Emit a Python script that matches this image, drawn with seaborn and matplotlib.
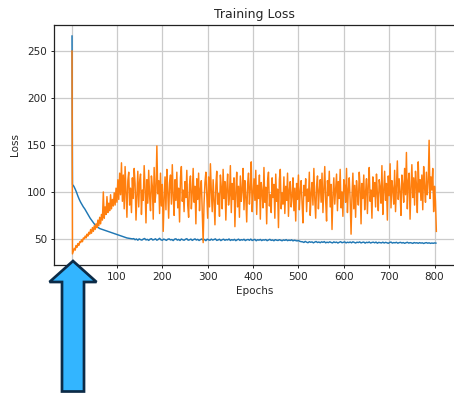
import numpy as np
import pandas as pd
import matplotlib
matplotlib.use("Agg")
import matplotlib.pyplot as plt
from matplotlib.patches import Polygon
import seaborn as sns

# Epoch grids: blue series sampled every third epoch, orange every second epoch
epochs_train = np.concatenate(([1, 2], np.arange(5, 806, 3)))
epochs_other = np.concatenate(([1], np.arange(2, 806, 2)))

# Training loss (blue series)
loss_train = [
    266, 108,
    106, 103, 99.5, 95.5, 92, 89, 86.5, 84, 82, 79.5, 77, 74.5, 72, 70, 68, 66,
    64.5, 63, 62, 61, 60.5, 60, 59.5, 59, 58.5, 58, 57.5, 57, 56.5, 56, 55.5, 55,
    54.5, 54, 53.5, 53, 52.5, 52, 51.5, 51, 50.8, 50.5, 50.2, 50,
    50.3, 49.1, 49.9, 48.6, 50.0, 49.2, 48.7, 49.8, 50.4, 48.9, 49.5, 48.4,
    49.7, 50.2, 48.8, 49.3, 50.1, 48.6, 49.4, 50.6, 49.0, 48.5, 49.8, 49.2,
    48.4, 49.6, 50.0, 48.9, 49.3, 48.2, 49.7, 50.1, 48.7, 49.4, 48.3, 49.9,
    49.1, 48.5, 49.6, 50.2, 48.6, 49.0, 49.8, 48.4, 49.3, 50.0, 48.8, 49.5,
    48.3, 49.2, 49.9, 48.6, 49.4, 48.1, 49.7, 49.0, 48.5, 49.8, 48.7, 49.3,
    50.0, 48.4, 48.9, 49.6, 48.2, 49.1, 49.7, 48.5, 49.3, 48.8, 49.9, 48.3,
    49.2, 48.6, 49.5, 48.1, 49.0, 49.7, 48.4, 49.2, 48.7, 49.6, 48.2, 49.0,
    49.4, 48.5, 49.8, 48.3, 48.9, 49.5, 48.0, 49.1, 48.6, 49.4, 48.2, 49.0,
    48.7, 49.3, 48.1, 48.8, 49.5, 48.4, 48.9, 48.0, 49.2, 48.6, 48.3, 49.1,
    48.5, 48.0, 48.9, 48.4, 49.2, 48.1, 48.7, 48.3, 49.0, 47.9, 48.6, 48.2,
    47.8, 48.3, 47.4, 47.0,
    46.9, 46.2, 47.3, 46.5, 45.9, 47.0, 46.4, 46.8, 45.8, 46.6, 47.2, 46.1,
    46.7, 45.9, 46.9, 46.3, 47.1, 45.8, 46.5, 46.0, 46.9, 46.2, 45.7, 46.8,
    46.1, 46.6, 45.6, 46.4, 47.0, 45.9, 46.3, 46.8, 45.7, 46.5, 46.0, 46.7,
    45.8, 46.9, 46.2, 45.6, 46.5, 46.1, 46.8, 45.7, 46.3, 46.6, 45.5, 46.4,
    46.0, 46.7, 45.6, 46.2, 46.5, 45.8, 46.6, 45.4, 46.3, 46.0, 45.7, 46.5,
    45.6, 46.3, 45.9, 45.3, 46.2, 46.6, 45.5, 46.1, 45.8, 46.4, 45.4, 46.0,
    46.3, 45.6, 46.1, 45.3, 45.9, 46.4, 45.5, 46.0, 45.7, 45.2, 46.1, 45.6,
    45.9, 45.3, 46.0, 45.5, 45.8, 45.1, 45.7, 46.0, 45.4, 45.8, 45.2, 45.6,
    45.3, 45.7, 45.5,
]

# Second loss series (orange)
loss_other = [
    250, 34,
    37, 40, 38, 43, 41, 45, 43, 47, 46, 49,
    47, 51, 50, 53, 51, 55, 53, 57, 55, 60,
    56, 62, 58, 64, 60, 66, 62, 70, 64, 73,
    66, 76, 70, 100, 72, 84, 76, 95, 78, 88,
    80, 97, 82, 92, 85, 99, 86, 104, 89, 113,
    92, 120, 97, 131,
    90, 118, 82, 127, 99, 73, 112, 121, 86, 104,
    78, 115, 93, 125, 109, 70, 97, 122, 84, 111,
    119, 76, 102, 91, 128, 105, 67, 113, 88, 123,
    95, 80, 117, 106, 71, 126, 89, 101, 149, 98,
    112, 77, 120, 85, 108, 58, 93, 116, 81, 124,
    100, 72, 110, 118, 87, 129, 96, 75, 113, 91,
    121, 83, 104, 68, 115, 127, 90, 102, 79, 111,
    94, 123, 86, 73, 108, 117, 82, 99, 125, 89,
    106, 66, 114, 92, 120, 80, 103, 112, 77, 46,
    88, 110, 121, 95, 72, 116, 84, 130, 101, 79,
    113, 91, 65, 107, 122, 87, 98, 74, 118, 105,
    82, 124, 93, 111, 70, 103, 119, 86, 96, 128,
    78, 109, 92, 115, 63, 100, 121, 84, 106, 73,
    117, 90, 102, 125, 81, 112, 95, 68, 109, 120,
    87, 104, 132, 79, 98, 114, 91, 123, 76, 107,
    93, 118, 71, 110, 100, 83, 126, 89, 105, 66,
    112, 121, 85, 97, 78, 115, 94, 108, 72, 119,
    90, 103, 62, 113, 124, 82, 99, 87, 116, 77,
    106, 91, 120, 74, 102, 111, 84, 95, 115, 80,
    104, 69, 109, 92, 118, 81, 100, 112, 88, 67,
    107, 96, 114, 79, 103, 90, 121, 75, 98, 110,
    86, 125, 93, 72, 106, 117, 82, 101, 113, 89,
    120, 78, 104, 127, 91, 69, 112, 96, 122, 84,
    108, 60, 97, 115, 87, 103, 119, 80, 111, 93,
    124, 83, 100, 74, 113, 106, 89, 125, 78, 102,
    115, 91, 55, 96, 120, 82, 107, 73, 112, 98,
    86, 121, 104, 66, 109, 93, 118, 81, 100, 114,
    77, 107, 126, 90, 102, 72, 116, 95, 110, 84,
    119, 98, 80, 113, 105, 88, 128, 76, 101, 122,
    91, 109, 70, 117, 96, 130, 83, 112, 103, 87,
    123, 79, 106, 133, 92, 114, 100, 75, 118, 108,
    89, 125, 97, 142, 82, 111, 120, 71, 104, 129,
    94, 115, 86, 122, 108, 78, 132, 100, 113, 91,
    118, 81, 127, 105, 89, 121, 97, 110, 155, 93,
    116, 102, 125, 79, 106, 90, 58,
]

series_names = ["train", "other"]
series_colors = ["#1f77b4", "#ff7f0e"]

df = pd.concat([
    pd.DataFrame({"Epochs": epochs_train, "Loss": loss_train, "series": series_names[0]}),
    pd.DataFrame({"Epochs": epochs_other, "Loss": loss_other, "series": series_names[1]}),
], ignore_index=True)

W, H, DPI = 454, 393, 100
fig = plt.figure(figsize=(W / DPI, H / DPI), dpi=DPI)
fig.patch.set_facecolor("white")
ax = fig.add_axes([0.1185, 0.3262, 0.8828, 0.6099])

sns.lineplot(data=df, x="Epochs", y="Loss", hue="series", hue_order=series_names,
             palette=series_colors, linewidth=1.05, legend=False, ax=ax,
             estimator=None, sort=True)

ax.margins(x=0.05, y=0.05)
ax.grid(True, color="#cbcbcb", linewidth=0.9)
ax.set_axisbelow(True)
ax.set_title("Training Loss", fontsize=9, color="#262626", pad=5)
ax.set_xlabel("Epochs", fontsize=7.5, color="#262626", labelpad=3)
ax.set_ylabel("Loss", fontsize=7.5, color="#262626", labelpad=5)
ax.tick_params(labelsize=7.5, labelcolor="#262626", length=2.5, width=0.6, pad=2.5)
for s in ax.spines.values():
    s.set_linewidth(0.9)
    s.set_color("#222222")

# Block arrow pointing up at the start of training (pixel coordinates, top-left origin)
arrow_px = [(73, 261), (96.5, 282), (84, 282), (84, 391.5),
            (62, 391.5), (62, 282), (49.5, 282)]
arrow_fig = [(x / W, 1 - y / H) for x, y in arrow_px]
fig.patches.append(Polygon(arrow_fig, closed=True, transform=fig.transFigure,
                           facecolor="#33b5ff", edgecolor="#0c2b47",
                           linewidth=1.95, joinstyle="miter", zorder=10))

fig.savefig("out.png", dpi=DPI)
